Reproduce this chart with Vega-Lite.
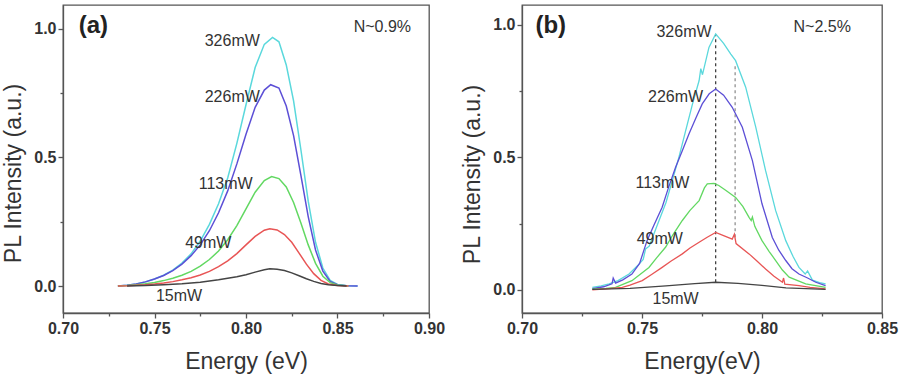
{
  "$schema": "https://vega.github.io/schema/vega-lite/v6.json",
  "padding": {"left": 2, "top": 4, "right": 0, "bottom": 0},
  "background": "white",
  "bounds": "flush",
  "spacing": 93,
  "config": {
    "font": "Liberation Sans",
    "view": {"stroke": "#555", "strokeWidth": 1.3},
    "axis": {"grid": false, "domainColor": "#555", "domainWidth": 1.3, "tickColor": "#555", "tickWidth": 1.3, "tickSize": 5, "labelPadding": 2, "labelFont": "Liberation Sans", "labelFontWeight": "bold", "labelFontSize": 16, "labelColor": "#333", "labelFlush": false, "labelBound": false, "titleFont": "Liberation Sans", "titleFontWeight": "normal", "titleFontSize": 23, "titleColor": "#333"},
    "line": {"strokeWidth": 1.5},
    "text": {"font": "Liberation Sans", "fontSize": 16, "color": "#333"}
  },
  "datasets": {
    "a": [
      {"energy": 0.730, "intensity": 0.000, "power": "326mW"},
      {"energy": 0.735, "intensity": 0.003, "power": "326mW"},
      {"energy": 0.740, "intensity": 0.008, "power": "326mW"},
      {"energy": 0.745, "intensity": 0.016, "power": "326mW"},
      {"energy": 0.750, "intensity": 0.027, "power": "326mW"},
      {"energy": 0.755, "intensity": 0.042, "power": "326mW"},
      {"energy": 0.760, "intensity": 0.062, "power": "326mW"},
      {"energy": 0.765, "intensity": 0.089, "power": "326mW"},
      {"energy": 0.770, "intensity": 0.125, "power": "326mW"},
      {"energy": 0.775, "intensity": 0.175, "power": "326mW"},
      {"energy": 0.780, "intensity": 0.240, "power": "326mW"},
      {"energy": 0.785, "intensity": 0.320, "power": "326mW"},
      {"energy": 0.790, "intensity": 0.420, "power": "326mW"},
      {"energy": 0.795, "intensity": 0.555, "power": "326mW"},
      {"energy": 0.800, "intensity": 0.705, "power": "326mW"},
      {"energy": 0.805, "intensity": 0.850, "power": "326mW"},
      {"energy": 0.810, "intensity": 0.940, "power": "326mW"},
      {"energy": 0.8145, "intensity": 0.967, "power": "326mW"},
      {"energy": 0.818, "intensity": 0.950, "power": "326mW"},
      {"energy": 0.822, "intensity": 0.860, "power": "326mW"},
      {"energy": 0.826, "intensity": 0.720, "power": "326mW"},
      {"energy": 0.830, "intensity": 0.530, "power": "326mW"},
      {"energy": 0.834, "intensity": 0.330, "power": "326mW"},
      {"energy": 0.838, "intensity": 0.170, "power": "326mW"},
      {"energy": 0.842, "intensity": 0.070, "power": "326mW"},
      {"energy": 0.846, "intensity": 0.022, "power": "326mW"},
      {"energy": 0.850, "intensity": 0.006, "power": "326mW"},
      {"energy": 0.855, "intensity": 0.001, "power": "326mW"},
      {"energy": 0.861, "intensity": 0.000, "power": "326mW"},

      {"energy": 0.730, "intensity": 0.000, "power": "226mW"},
      {"energy": 0.735, "intensity": 0.003, "power": "226mW"},
      {"energy": 0.740, "intensity": 0.008, "power": "226mW"},
      {"energy": 0.745, "intensity": 0.016, "power": "226mW"},
      {"energy": 0.750, "intensity": 0.027, "power": "226mW"},
      {"energy": 0.755, "intensity": 0.041, "power": "226mW"},
      {"energy": 0.760, "intensity": 0.060, "power": "226mW"},
      {"energy": 0.765, "intensity": 0.085, "power": "226mW"},
      {"energy": 0.770, "intensity": 0.118, "power": "226mW"},
      {"energy": 0.775, "intensity": 0.160, "power": "226mW"},
      {"energy": 0.780, "intensity": 0.215, "power": "226mW"},
      {"energy": 0.785, "intensity": 0.285, "power": "226mW"},
      {"energy": 0.790, "intensity": 0.370, "power": "226mW"},
      {"energy": 0.795, "intensity": 0.475, "power": "226mW"},
      {"energy": 0.800, "intensity": 0.590, "power": "226mW"},
      {"energy": 0.805, "intensity": 0.695, "power": "226mW"},
      {"energy": 0.810, "intensity": 0.762, "power": "226mW"},
      {"energy": 0.8135, "intensity": 0.783, "power": "226mW"},
      {"energy": 0.818, "intensity": 0.770, "power": "226mW"},
      {"energy": 0.822, "intensity": 0.700, "power": "226mW"},
      {"energy": 0.826, "intensity": 0.585, "power": "226mW"},
      {"energy": 0.830, "intensity": 0.430, "power": "226mW"},
      {"energy": 0.834, "intensity": 0.270, "power": "226mW"},
      {"energy": 0.838, "intensity": 0.140, "power": "226mW"},
      {"energy": 0.842, "intensity": 0.058, "power": "226mW"},
      {"energy": 0.846, "intensity": 0.018, "power": "226mW"},
      {"energy": 0.850, "intensity": 0.005, "power": "226mW"},
      {"energy": 0.855, "intensity": 0.001, "power": "226mW"},
      {"energy": 0.861, "intensity": 0.000, "power": "226mW"},

      {"energy": 0.730, "intensity": 0.000, "power": "113mW"},
      {"energy": 0.735, "intensity": 0.002, "power": "113mW"},
      {"energy": 0.740, "intensity": 0.005, "power": "113mW"},
      {"energy": 0.745, "intensity": 0.009, "power": "113mW"},
      {"energy": 0.750, "intensity": 0.014, "power": "113mW"},
      {"energy": 0.755, "intensity": 0.021, "power": "113mW"},
      {"energy": 0.760, "intensity": 0.030, "power": "113mW"},
      {"energy": 0.765, "intensity": 0.042, "power": "113mW"},
      {"energy": 0.770, "intensity": 0.057, "power": "113mW"},
      {"energy": 0.775, "intensity": 0.077, "power": "113mW"},
      {"energy": 0.780, "intensity": 0.103, "power": "113mW"},
      {"energy": 0.785, "intensity": 0.136, "power": "113mW"},
      {"energy": 0.790, "intensity": 0.180, "power": "113mW"},
      {"energy": 0.795, "intensity": 0.235, "power": "113mW"},
      {"energy": 0.800, "intensity": 0.300, "power": "113mW"},
      {"energy": 0.805, "intensity": 0.365, "power": "113mW"},
      {"energy": 0.810, "intensity": 0.410, "power": "113mW"},
      {"energy": 0.814, "intensity": 0.426, "power": "113mW"},
      {"energy": 0.818, "intensity": 0.418, "power": "113mW"},
      {"energy": 0.822, "intensity": 0.385, "power": "113mW"},
      {"energy": 0.826, "intensity": 0.325, "power": "113mW"},
      {"energy": 0.830, "intensity": 0.245, "power": "113mW"},
      {"energy": 0.834, "intensity": 0.160, "power": "113mW"},
      {"energy": 0.838, "intensity": 0.088, "power": "113mW"},
      {"energy": 0.842, "intensity": 0.038, "power": "113mW"},
      {"energy": 0.846, "intensity": 0.013, "power": "113mW"},
      {"energy": 0.850, "intensity": 0.004, "power": "113mW"},
      {"energy": 0.856, "intensity": 0.000, "power": "113mW"},

      {"energy": 0.730, "intensity": 0.000, "power": "49mW"},
      {"energy": 0.735, "intensity": 0.001, "power": "49mW"},
      {"energy": 0.740, "intensity": 0.003, "power": "49mW"},
      {"energy": 0.745, "intensity": 0.005, "power": "49mW"},
      {"energy": 0.750, "intensity": 0.008, "power": "49mW"},
      {"energy": 0.755, "intensity": 0.012, "power": "49mW"},
      {"energy": 0.760, "intensity": 0.017, "power": "49mW"},
      {"energy": 0.765, "intensity": 0.024, "power": "49mW"},
      {"energy": 0.770, "intensity": 0.032, "power": "49mW"},
      {"energy": 0.775, "intensity": 0.043, "power": "49mW"},
      {"energy": 0.780, "intensity": 0.057, "power": "49mW"},
      {"energy": 0.785, "intensity": 0.075, "power": "49mW"},
      {"energy": 0.790, "intensity": 0.098, "power": "49mW"},
      {"energy": 0.795, "intensity": 0.126, "power": "49mW"},
      {"energy": 0.800, "intensity": 0.160, "power": "49mW"},
      {"energy": 0.805, "intensity": 0.193, "power": "49mW"},
      {"energy": 0.810, "intensity": 0.217, "power": "49mW"},
      {"energy": 0.813, "intensity": 0.223, "power": "49mW"},
      {"energy": 0.817, "intensity": 0.218, "power": "49mW"},
      {"energy": 0.821, "intensity": 0.200, "power": "49mW"},
      {"energy": 0.825, "intensity": 0.170, "power": "49mW"},
      {"energy": 0.829, "intensity": 0.128, "power": "49mW"},
      {"energy": 0.833, "intensity": 0.085, "power": "49mW"},
      {"energy": 0.837, "intensity": 0.048, "power": "49mW"},
      {"energy": 0.841, "intensity": 0.022, "power": "49mW"},
      {"energy": 0.845, "intensity": 0.008, "power": "49mW"},
      {"energy": 0.850, "intensity": 0.002, "power": "49mW"},
      {"energy": 0.856, "intensity": 0.000, "power": "49mW"},

      {"energy": 0.735, "intensity": 0.000, "power": "15mW"},
      {"energy": 0.745, "intensity": 0.002, "power": "15mW"},
      {"energy": 0.755, "intensity": 0.005, "power": "15mW"},
      {"energy": 0.765, "intensity": 0.009, "power": "15mW"},
      {"energy": 0.775, "intensity": 0.015, "power": "15mW"},
      {"energy": 0.785, "intensity": 0.024, "power": "15mW"},
      {"energy": 0.795, "intensity": 0.036, "power": "15mW"},
      {"energy": 0.800, "intensity": 0.044, "power": "15mW"},
      {"energy": 0.805, "intensity": 0.054, "power": "15mW"},
      {"energy": 0.810, "intensity": 0.063, "power": "15mW"},
      {"energy": 0.813, "intensity": 0.067, "power": "15mW"},
      {"energy": 0.817, "intensity": 0.065, "power": "15mW"},
      {"energy": 0.821, "intensity": 0.060, "power": "15mW"},
      {"energy": 0.825, "intensity": 0.051, "power": "15mW"},
      {"energy": 0.829, "intensity": 0.040, "power": "15mW"},
      {"energy": 0.833, "intensity": 0.028, "power": "15mW"},
      {"energy": 0.837, "intensity": 0.018, "power": "15mW"},
      {"energy": 0.841, "intensity": 0.010, "power": "15mW"},
      {"energy": 0.845, "intensity": 0.005, "power": "15mW"},
      {"energy": 0.850, "intensity": 0.002, "power": "15mW"},
      {"energy": 0.855, "intensity": 0.000, "power": "15mW"}
    ],
    "b": [
      {"energy": 0.7293, "intensity": 0.010, "power": "326mW"},
      {"energy": 0.7330, "intensity": 0.015, "power": "326mW"},
      {"energy": 0.7363, "intensity": 0.023, "power": "326mW"},
      {"energy": 0.7400, "intensity": 0.035, "power": "326mW"},
      {"energy": 0.7446, "intensity": 0.060, "power": "326mW"},
      {"energy": 0.7480, "intensity": 0.090, "power": "326mW"},
      {"energy": 0.7505, "intensity": 0.115, "power": "326mW"},
      {"energy": 0.7515, "intensity": 0.155, "power": "326mW"},
      {"energy": 0.7530, "intensity": 0.165, "power": "326mW"},
      {"energy": 0.7571, "intensity": 0.262, "power": "326mW"},
      {"energy": 0.7600, "intensity": 0.330, "power": "326mW"},
      {"energy": 0.7626, "intensity": 0.412, "power": "326mW"},
      {"energy": 0.7655, "intensity": 0.505, "power": "326mW"},
      {"energy": 0.7682, "intensity": 0.601, "power": "326mW"},
      {"energy": 0.7710, "intensity": 0.700, "power": "326mW"},
      {"energy": 0.7738, "intensity": 0.790, "power": "326mW"},
      {"energy": 0.7745, "intensity": 0.835, "power": "326mW"},
      {"energy": 0.7752, "intensity": 0.812, "power": "326mW"},
      {"energy": 0.7779, "intensity": 0.915, "power": "326mW"},
      {"energy": 0.7807, "intensity": 0.966, "power": "326mW"},
      {"energy": 0.7840, "intensity": 0.930, "power": "326mW"},
      {"energy": 0.7870, "intensity": 0.890, "power": "326mW"},
      {"energy": 0.7890, "intensity": 0.865, "power": "326mW"},
      {"energy": 0.7932, "intensity": 0.765, "power": "326mW"},
      {"energy": 0.7974, "intensity": 0.614, "power": "326mW"},
      {"energy": 0.8015, "intensity": 0.450, "power": "326mW"},
      {"energy": 0.8057, "intensity": 0.299, "power": "326mW"},
      {"energy": 0.8099, "intensity": 0.186, "power": "326mW"},
      {"energy": 0.8130, "intensity": 0.125, "power": "326mW"},
      {"energy": 0.8154, "intensity": 0.085, "power": "326mW"},
      {"energy": 0.8180, "intensity": 0.060, "power": "326mW"},
      {"energy": 0.8190, "intensity": 0.072, "power": "326mW"},
      {"energy": 0.8210, "intensity": 0.037, "power": "326mW"},
      {"energy": 0.8240, "intensity": 0.028, "power": "326mW"},
      {"energy": 0.8265, "intensity": 0.023, "power": "326mW"},

      {"energy": 0.7293, "intensity": 0.005, "power": "226mW"},
      {"energy": 0.7340, "intensity": 0.012, "power": "226mW"},
      {"energy": 0.7375, "intensity": 0.023, "power": "226mW"},
      {"energy": 0.7380, "intensity": 0.045, "power": "226mW"},
      {"energy": 0.7390, "intensity": 0.026, "power": "226mW"},
      {"energy": 0.7420, "intensity": 0.038, "power": "226mW"},
      {"energy": 0.7458, "intensity": 0.060, "power": "226mW"},
      {"energy": 0.7490, "intensity": 0.100, "power": "226mW"},
      {"energy": 0.7521, "intensity": 0.186, "power": "226mW"},
      {"energy": 0.7550, "intensity": 0.245, "power": "226mW"},
      {"energy": 0.7584, "intensity": 0.312, "power": "226mW"},
      {"energy": 0.7610, "intensity": 0.385, "power": "226mW"},
      {"energy": 0.7640, "intensity": 0.463, "power": "226mW"},
      {"energy": 0.7670, "intensity": 0.530, "power": "226mW"},
      {"energy": 0.7696, "intensity": 0.589, "power": "226mW"},
      {"energy": 0.7725, "intensity": 0.650, "power": "226mW"},
      {"energy": 0.7751, "intensity": 0.702, "power": "226mW"},
      {"energy": 0.7780, "intensity": 0.740, "power": "226mW"},
      {"energy": 0.7807, "intensity": 0.758, "power": "226mW"},
      {"energy": 0.7840, "intensity": 0.735, "power": "226mW"},
      {"energy": 0.7876, "intensity": 0.689, "power": "226mW"},
      {"energy": 0.7918, "intensity": 0.614, "power": "226mW"},
      {"energy": 0.7960, "intensity": 0.488, "power": "226mW"},
      {"energy": 0.8000, "intensity": 0.325, "power": "226mW"},
      {"energy": 0.8043, "intensity": 0.198, "power": "226mW"},
      {"energy": 0.8070, "intensity": 0.150, "power": "226mW"},
      {"energy": 0.8099, "intensity": 0.111, "power": "226mW"},
      {"energy": 0.8125, "intensity": 0.080, "power": "226mW"},
      {"energy": 0.8154, "intensity": 0.060, "power": "226mW"},
      {"energy": 0.8190, "intensity": 0.045, "power": "226mW"},
      {"energy": 0.8224, "intensity": 0.029, "power": "226mW"},
      {"energy": 0.8265, "intensity": 0.016, "power": "226mW"},

      {"energy": 0.7293, "intensity": 0.003, "power": "113mW"},
      {"energy": 0.7350, "intensity": 0.006, "power": "113mW"},
      {"energy": 0.7390, "intensity": 0.010, "power": "113mW"},
      {"energy": 0.7458, "intensity": 0.035, "power": "113mW"},
      {"energy": 0.7529, "intensity": 0.085, "power": "113mW"},
      {"energy": 0.7560, "intensity": 0.120, "power": "113mW"},
      {"energy": 0.7598, "intensity": 0.161, "power": "113mW"},
      {"energy": 0.7630, "intensity": 0.210, "power": "113mW"},
      {"energy": 0.7668, "intensity": 0.262, "power": "113mW"},
      {"energy": 0.7700, "intensity": 0.300, "power": "113mW"},
      {"energy": 0.7738, "intensity": 0.337, "power": "113mW"},
      {"energy": 0.7760, "intensity": 0.385, "power": "113mW"},
      {"energy": 0.7772, "intensity": 0.400, "power": "113mW"},
      {"energy": 0.7800, "intensity": 0.402, "power": "113mW"},
      {"energy": 0.7820, "intensity": 0.394, "power": "113mW"},
      {"energy": 0.7850, "intensity": 0.375, "power": "113mW"},
      {"energy": 0.7890, "intensity": 0.349, "power": "113mW"},
      {"energy": 0.7920, "intensity": 0.315, "power": "113mW"},
      {"energy": 0.7946, "intensity": 0.274, "power": "113mW"},
      {"energy": 0.7955, "intensity": 0.262, "power": "113mW"},
      {"energy": 0.7960, "intensity": 0.275, "power": "113mW"},
      {"energy": 0.7970, "intensity": 0.240, "power": "113mW"},
      {"energy": 0.8000, "intensity": 0.186, "power": "113mW"},
      {"energy": 0.8030, "intensity": 0.145, "power": "113mW"},
      {"energy": 0.8057, "intensity": 0.111, "power": "113mW"},
      {"energy": 0.8085, "intensity": 0.075, "power": "113mW"},
      {"energy": 0.8113, "intensity": 0.048, "power": "113mW"},
      {"energy": 0.8182, "intensity": 0.023, "power": "113mW"},
      {"energy": 0.8265, "intensity": 0.010, "power": "113mW"},

      {"energy": 0.7293, "intensity": 0.000, "power": "49mW"},
      {"energy": 0.7350, "intensity": 0.004, "power": "49mW"},
      {"energy": 0.7418, "intensity": 0.010, "power": "49mW"},
      {"energy": 0.7450, "intensity": 0.018, "power": "49mW"},
      {"energy": 0.7501, "intensity": 0.035, "power": "49mW"},
      {"energy": 0.7540, "intensity": 0.058, "power": "49mW"},
      {"energy": 0.7584, "intensity": 0.085, "power": "49mW"},
      {"energy": 0.7620, "intensity": 0.108, "power": "49mW"},
      {"energy": 0.7668, "intensity": 0.136, "power": "49mW"},
      {"energy": 0.7700, "intensity": 0.158, "power": "49mW"},
      {"energy": 0.7738, "intensity": 0.180, "power": "49mW"},
      {"energy": 0.7770, "intensity": 0.198, "power": "49mW"},
      {"energy": 0.7807, "intensity": 0.217, "power": "49mW"},
      {"energy": 0.7840, "intensity": 0.205, "power": "49mW"},
      {"energy": 0.7876, "intensity": 0.192, "power": "49mW"},
      {"energy": 0.7885, "intensity": 0.210, "power": "49mW"},
      {"energy": 0.7892, "intensity": 0.175, "power": "49mW"},
      {"energy": 0.7946, "intensity": 0.136, "power": "49mW"},
      {"energy": 0.7980, "intensity": 0.108, "power": "49mW"},
      {"energy": 0.8015, "intensity": 0.079, "power": "49mW"},
      {"energy": 0.8050, "intensity": 0.052, "power": "49mW"},
      {"energy": 0.8085, "intensity": 0.029, "power": "49mW"},
      {"energy": 0.8090, "intensity": 0.045, "power": "49mW"},
      {"energy": 0.8095, "intensity": 0.022, "power": "49mW"},
      {"energy": 0.8154, "intensity": 0.016, "power": "49mW"},
      {"energy": 0.8200, "intensity": 0.010, "power": "49mW"},
      {"energy": 0.8265, "intensity": 0.004, "power": "49mW"},

      {"energy": 0.7293, "intensity": 0.002, "power": "15mW"},
      {"energy": 0.7450, "intensity": 0.006, "power": "15mW"},
      {"energy": 0.7600, "intensity": 0.015, "power": "15mW"},
      {"energy": 0.7720, "intensity": 0.024, "power": "15mW"},
      {"energy": 0.7807, "intensity": 0.029, "power": "15mW"},
      {"energy": 0.7900, "intensity": 0.025, "power": "15mW"},
      {"energy": 0.8000, "intensity": 0.017, "power": "15mW"},
      {"energy": 0.8100, "intensity": 0.008, "power": "15mW"},
      {"energy": 0.8265, "intensity": 0.002, "power": "15mW"}
    ],
    "labelsA": [
      {"energy": 0.7925, "intensity": 0.952, "text": "326mW"},
      {"energy": 0.7925, "intensity": 0.734, "text": "226mW"},
      {"energy": 0.7889, "intensity": 0.396, "text": "113mW"},
      {"energy": 0.7794, "intensity": 0.166, "text": "49mW"},
      {"energy": 0.7634, "intensity": -0.039, "text": "15mW"},
      {"energy": 0.8745, "intensity": 1.009, "text": "N~0.9%"}
    ],
    "labelsB": [
      {"energy": 0.7675, "intensity": 0.972, "text": "326mW"},
      {"energy": 0.7640, "intensity": 0.727, "text": "226mW"},
      {"energy": 0.7585, "intensity": 0.402, "text": "113mW"},
      {"energy": 0.7574, "intensity": 0.192, "text": "49mW"},
      {"energy": 0.7640, "intensity": -0.034, "text": "15mW"},
      {"energy": 0.8251, "intensity": 0.991, "text": "N~2.5%"}
    ],
    "panelA": [{"energy": 0.7166, "intensity": 1.013, "text": "(a)"}],
    "panelB": [{"energy": 0.7120, "intensity": 0.997, "text": "(b)"}],
    "dashes": [
      {"energy": 0.7807, "lo": 0.029, "hi": 0.966, "kind": "peak"},
      {"energy": 0.7888, "lo": 0.199, "hi": 0.853, "kind": "shoulder"}
    ]
  },
  "hconcat": [
    {
      "width": 366,
      "height": 308,
      "layer": [
        {
          "data": {"name": "a"},
          "mark": {"type": "line"},
          "encoding": {
            "x": {"field": "energy", "type": "quantitative", "scale": {"domain": [0.7, 0.9], "nice": false, "zero": false},
              "axis": {"title": "Energy (eV)", "titlePadding": 14, "values": [0.7, 0.725, 0.75, 0.775, 0.8, 0.825, 0.85, 0.875, 0.9],
                "tickSize": {"condition": {"test": "abs(datum.value*20 - round(datum.value*20)) < 0.01", "value": 5}, "value": 3},
                "labelExpr": "abs(datum.value*20 - round(datum.value*20)) < 0.01 ? format(datum.value, '.2f') : ''"}},
            "y": {"field": "intensity", "type": "quantitative", "scale": {"domain": [-0.105, 1.093], "nice": false, "zero": false},
              "axis": {"title": "PL Intensity (a.u.)", "titlePadding": 8, "titleY": 168, "values": [0, 0.25, 0.5, 0.75, 1],
                "tickSize": {"condition": {"test": "abs(datum.value*2 - round(datum.value*2)) < 0.01", "value": 5}, "value": 3},
                "labelExpr": "abs(datum.value*2 - round(datum.value*2)) < 0.01 ? format(datum.value, '.1f') : ''"}},
            "color": {"field": "power", "type": "nominal", "legend": null,
              "scale": {"domain": ["15mW", "49mW", "113mW", "226mW", "326mW"], "range": ["#444444", "#e85555", "#62d862", "#5c4fd6", "#5ad8dc"]}},
            "order": {"field": "energy", "type": "quantitative"}
          }
        },
        {
          "data": {"name": "labelsA"},
          "mark": {"type": "text", "fontSize": 16},
          "encoding": {
            "x": {"field": "energy", "type": "quantitative"},
            "y": {"field": "intensity", "type": "quantitative"},
            "text": {"field": "text"}
          }
        },
        {
          "data": {"name": "panelA"},
          "mark": {"type": "text", "fontSize": 24, "fontWeight": "bold", "color": "#222"},
          "encoding": {
            "x": {"field": "energy", "type": "quantitative"},
            "y": {"field": "intensity", "type": "quantitative"},
            "text": {"field": "text"}
          }
        }
      ]
    },
    {
      "width": 360,
      "height": 308,
      "layer": [
        {
          "data": {"name": "dashes"},
          "transform": [{"filter": "datum.kind == 'peak'"}],
          "mark": {"type": "rule", "strokeDash": [3, 3], "color": "#333", "strokeWidth": 1.2},
          "encoding": {
            "x": {"field": "energy", "type": "quantitative"},
            "y": {"field": "lo", "type": "quantitative"},
            "y2": {"field": "hi"}
          }
        },
        {
          "data": {"name": "dashes"},
          "transform": [{"filter": "datum.kind == 'shoulder'"}],
          "mark": {"type": "rule", "strokeDash": [3, 3], "color": "#888", "strokeWidth": 1.2},
          "encoding": {
            "x": {"field": "energy", "type": "quantitative"},
            "y": {"field": "lo", "type": "quantitative"},
            "y2": {"field": "hi"}
          }
        },
        {
          "data": {"name": "b"},
          "mark": {"type": "line", "strokeWidth": 1.3},
          "encoding": {
            "x": {"field": "energy", "type": "quantitative", "scale": {"domain": [0.7, 0.85], "nice": false, "zero": false},
              "axis": {"title": "Energy(eV)", "titlePadding": 14, "values": [0.7, 0.725, 0.75, 0.775, 0.8, 0.825, 0.85],
                "tickSize": {"condition": {"test": "abs(datum.value*20 - round(datum.value*20)) < 0.01", "value": 5}, "value": 3},
                "labelExpr": "abs(datum.value*20 - round(datum.value*20)) < 0.01 ? format(datum.value, '.2f') : ''"}},
            "y": {"field": "intensity", "type": "quantitative", "scale": {"domain": [-0.087, 1.075], "nice": false, "zero": false},
              "axis": {"title": "PL Intensity (a.u.)", "titlePadding": 8, "titleY": 169, "values": [0, 0.25, 0.5, 0.75, 1],
                "tickSize": {"condition": {"test": "abs(datum.value*2 - round(datum.value*2)) < 0.01", "value": 5}, "value": 3},
                "labelExpr": "abs(datum.value*2 - round(datum.value*2)) < 0.01 ? format(datum.value, '.1f') : ''"}},
            "color": {"field": "power", "type": "nominal", "legend": null,
              "scale": {"domain": ["15mW", "49mW", "113mW", "226mW", "326mW"], "range": ["#444444", "#e85555", "#62d862", "#5c4fd6", "#5ad8dc"]}},
            "order": {"field": "energy", "type": "quantitative"}
          }
        },
        {
          "data": {"name": "labelsB"},
          "mark": {"type": "text", "fontSize": 16},
          "encoding": {
            "x": {"field": "energy", "type": "quantitative"},
            "y": {"field": "intensity", "type": "quantitative"},
            "text": {"field": "text"}
          }
        },
        {
          "data": {"name": "panelB"},
          "mark": {"type": "text", "fontSize": 24, "fontWeight": "bold", "color": "#222"},
          "encoding": {
            "x": {"field": "energy", "type": "quantitative"},
            "y": {"field": "intensity", "type": "quantitative"},
            "text": {"field": "text"}
          }
        }
      ]
    }
  ]
}
